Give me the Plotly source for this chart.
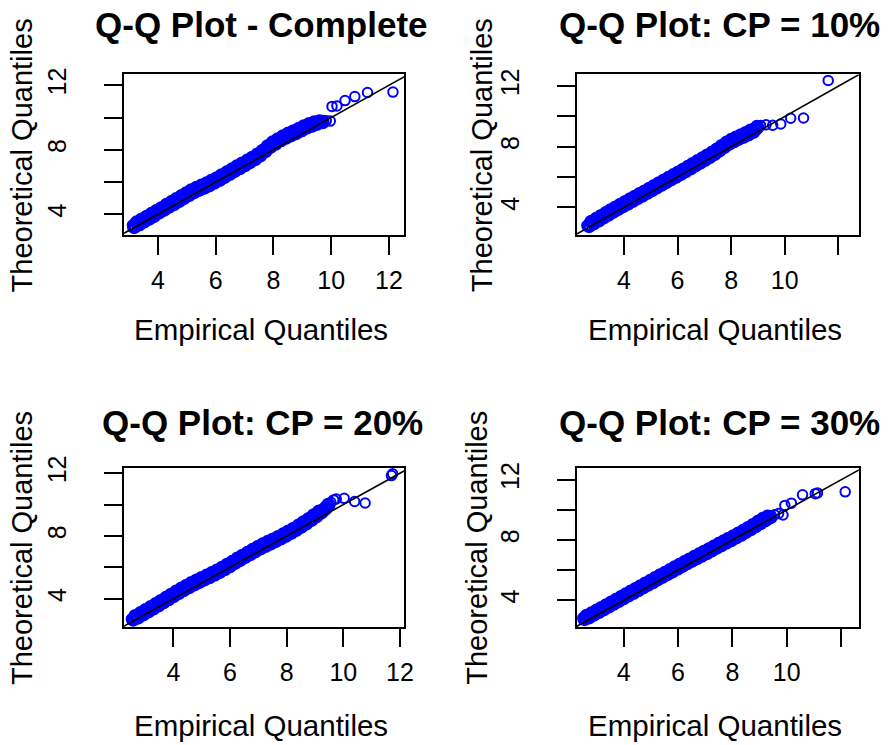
import plotly.graph_objects as go

# ---------------- data ----------------
titles = ["Q-Q Plot - Complete", "Q-Q Plot: CP = 10%", "Q-Q Plot: CP = 20%", "Q-Q Plot: CP = 30%"]
x_label = "Empirical Quantiles"
y_label = "Theoretical Quantiles"
tick_values = [4, 6, 8, 10, 12]
x_tick_text_full = ["4", "6", "8", "10", "12"]
x_tick_text_short = ["4", "6", "8", "10", ""]
y_tick_text = ["4", "", "8", "", "12"]

emp_complete = [
    3.12, 3.18, 3.27, 3.35, 3.44, 3.52, 3.61, 3.69, 3.78, 3.86,
    3.95, 4.04, 4.12, 4.21, 4.30, 4.38, 4.47, 4.56, 4.64, 4.73,
    4.82, 4.90, 4.99, 5.08, 5.16, 5.25, 5.34, 5.43, 5.51, 5.60,
    5.69, 5.78, 5.86, 5.95, 6.04, 6.13, 6.21, 6.30, 6.39, 6.48,
    6.57, 6.65, 6.74, 6.83, 6.92, 7.01, 7.10, 7.18, 7.27, 7.36,
    7.45, 7.54, 7.63, 7.72, 7.80, 7.89, 7.98, 8.07, 8.16, 8.25,
    8.34, 8.43, 8.52, 8.61, 8.70, 8.79, 8.88, 8.97, 9.06, 9.15,
    9.24, 9.33, 9.42, 9.51, 9.60, 9.70, 9.83, 9.97, 10.03, 10.20,
    10.48, 10.82, 11.26, 12.14]
theo_complete = [
    3.34, 3.22, 3.49, 3.38, 3.67, 3.56, 3.83, 3.73, 4.02, 3.90,
    4.19, 4.12, 4.37, 4.29, 4.58, 4.48, 4.75, 4.65, 4.93, 4.83,
    5.12, 5.02, 5.30, 5.21, 5.48, 5.38, 5.64, 5.53, 5.77, 5.66,
    5.91, 5.81, 6.07, 5.97, 6.23, 6.14, 6.41, 6.32, 6.59, 6.51,
    6.78, 6.69, 6.96, 6.87, 7.14, 7.05, 7.32, 7.23, 7.50, 7.43,
    7.70, 7.65, 7.93, 7.92, 8.20, 8.18, 8.45, 8.39, 8.64, 8.59,
    8.83, 8.75, 9.00, 8.91, 9.14, 9.05, 9.29, 9.21, 9.45, 9.38,
    9.58, 9.50, 9.69, 9.62, 9.76, 9.72, 9.80, 9.78, 10.69, 10.72,
    11.05, 11.30, 11.55, 11.58]

emp_cp10 = [
    2.62, 2.70, 2.79, 2.88, 2.97, 3.06, 3.15, 3.24, 3.33, 3.42,
    3.51, 3.60, 3.69, 3.78, 3.87, 3.96, 4.05, 4.14, 4.23, 4.32,
    4.41, 4.50, 4.59, 4.68, 4.77, 4.86, 4.95, 5.04, 5.13, 5.22,
    5.31, 5.40, 5.49, 5.58, 5.67, 5.76, 5.85, 5.94, 6.03, 6.12,
    6.21, 6.30, 6.39, 6.48, 6.57, 6.66, 6.75, 6.84, 6.93, 7.02,
    7.11, 7.20, 7.29, 7.38, 7.47, 7.56, 7.65, 7.74, 7.83, 7.92,
    8.01, 8.10, 8.19, 8.28, 8.37, 8.46, 8.55, 8.64, 8.73, 8.82,
    8.91, 8.97, 9.10, 9.30, 9.55, 9.85, 10.22, 10.70, 11.62]
theo_cp10 = [
    2.80, 2.78, 3.04, 2.96, 3.23, 3.15, 3.42, 3.34, 3.61, 3.53,
    3.80, 3.72, 3.98, 3.90, 4.16, 4.08, 4.34, 4.25, 4.52, 4.43,
    4.69, 4.61, 4.87, 4.78, 5.04, 4.96, 5.22, 5.14, 5.40, 5.32,
    5.58, 5.50, 5.76, 5.68, 5.94, 5.86, 6.12, 6.03, 6.29, 6.21,
    6.47, 6.39, 6.66, 6.58, 6.85, 6.77, 7.04, 6.96, 7.22, 7.14,
    7.41, 7.33, 7.60, 7.53, 7.81, 7.76, 8.04, 7.99, 8.26, 8.20,
    8.44, 8.37, 8.60, 8.53, 8.75, 8.67, 8.90, 8.82, 9.06, 8.99,
    9.18, 9.30, 9.40, 9.45, 9.42, 9.50, 9.88, 9.90, 12.37]

emp_cp20 = [
    2.52, 2.58, 2.66, 2.75, 2.84, 2.93, 3.02, 3.11, 3.20, 3.29,
    3.38, 3.47, 3.56, 3.65, 3.74, 3.83, 3.92, 4.01, 4.10, 4.19,
    4.28, 4.37, 4.46, 4.55, 4.64, 4.73, 4.82, 4.91, 5.00, 5.09,
    5.18, 5.27, 5.36, 5.45, 5.54, 5.63, 5.72, 5.81, 5.90, 5.99,
    6.08, 6.17, 6.26, 6.35, 6.44, 6.53, 6.62, 6.71, 6.80, 6.89,
    6.98, 7.07, 7.16, 7.25, 7.34, 7.43, 7.52, 7.61, 7.70, 7.79,
    7.88, 7.97, 8.06, 8.15, 8.24, 8.33, 8.42, 8.51, 8.60, 8.69,
    8.78, 8.87, 8.96, 9.05, 9.14, 9.22, 9.30, 9.38, 9.47, 9.56,
    9.66, 9.75, 10.03, 10.40, 10.77, 11.70, 11.74]
theo_cp20 = [
    2.70, 2.68, 2.89, 2.81, 3.07, 3.00, 3.26, 3.19, 3.45, 3.38,
    3.64, 3.58, 3.84, 3.78, 4.04, 3.98, 4.24, 4.18, 4.44, 4.37,
    4.63, 4.56, 4.81, 4.74, 4.99, 4.91, 5.15, 5.07, 5.31, 5.23,
    5.46, 5.38, 5.62, 5.54, 5.78, 5.71, 5.96, 5.89, 6.15, 6.08,
    6.34, 6.28, 6.54, 6.47, 6.73, 6.66, 6.91, 6.85, 7.10, 7.03,
    7.28, 7.21, 7.45, 7.37, 7.61, 7.52, 7.76, 7.68, 7.92, 7.85,
    8.09, 8.02, 8.27, 8.20, 8.45, 8.39, 8.65, 8.59, 8.86, 8.81,
    9.07, 9.03, 9.31, 9.26, 9.54, 9.50, 9.64, 9.78, 9.98, 10.15,
    10.30, 10.36, 10.40, 10.20, 10.10, 11.85, 11.96]

emp_cp30 = [
    2.50, 2.56, 2.64, 2.73, 2.82, 2.91, 3.00, 3.09, 3.18, 3.27,
    3.36, 3.45, 3.54, 3.63, 3.72, 3.81, 3.90, 3.99, 4.08, 4.17,
    4.26, 4.35, 4.44, 4.53, 4.62, 4.71, 4.80, 4.89, 4.98, 5.07,
    5.16, 5.25, 5.34, 5.43, 5.52, 5.61, 5.70, 5.79, 5.88, 5.97,
    6.06, 6.15, 6.24, 6.33, 6.42, 6.51, 6.60, 6.69, 6.78, 6.87,
    6.96, 7.05, 7.14, 7.23, 7.32, 7.41, 7.50, 7.59, 7.68, 7.77,
    7.86, 7.95, 8.04, 8.13, 8.22, 8.31, 8.40, 8.49, 8.58, 8.67,
    8.76, 8.85, 8.94, 9.03, 9.12, 9.21, 9.30, 9.40, 9.55, 9.70,
    9.86, 9.93, 10.17, 10.58, 11.05, 11.13, 12.15]
theo_cp30 = [
    2.84, 2.76, 2.96, 2.88, 3.12, 3.06, 3.30, 3.24, 3.48, 3.42,
    3.66, 3.60, 3.84, 3.78, 4.02, 3.96, 4.20, 4.14, 4.38, 4.32,
    4.56, 4.50, 4.74, 4.68, 4.92, 4.86, 5.10, 5.04, 5.28, 5.21,
    5.46, 5.40, 5.64, 5.57, 5.81, 5.75, 5.99, 5.92, 6.17, 6.11,
    6.35, 6.28, 6.52, 6.46, 6.70, 6.63, 6.87, 6.80, 7.04, 6.97,
    7.21, 7.14, 7.38, 7.31, 7.55, 7.49, 7.73, 7.66, 7.90, 7.83,
    8.07, 8.00, 8.24, 8.17, 8.42, 8.35, 8.60, 8.54, 8.79, 8.73,
    8.99, 8.93, 9.19, 9.13, 9.39, 9.32, 9.54, 9.52, 9.68, 9.76,
    9.66, 10.30, 10.45, 11.00, 11.08, 11.13, 11.20]

emp_sets = [emp_complete, emp_cp10, emp_cp20, emp_cp30]
theo_sets = [theo_complete, theo_cp10, theo_cp20, theo_cp30]
# number of sparse (individually visible) points at the upper end of each panel
tail_counts = [8, 7, 8, 9]
# the first point of each panel also shows as a lone ring
head_counts = [1, 1, 1, 1]

# ---------------- layout geometry (pixels) ----------------
W, H = 893, 745
FONT = "Liberation Sans, Arial, sans-serif"

# plot boxes: (left, right, top, bottom) in px
boxes = [(125.5, 408.5, 63.5, 226.5),
         (583.5, 868.5, 63.5, 226.5),
         (125.5, 408.5, 463.5, 625.5),
         (583.5, 868.5, 463.5, 625.5)]
x_ranges = [[2.83, 12.52], [2.25, 12.76], [2.26, 12.14], [2.28, 12.65]]
y_ranges = [[2.73, 12.67], [2.19, 12.77], [2.17, 12.33], [2.20, 12.78]]
x_tick_texts = [x_tick_text_full, x_tick_text_short, x_tick_text_full, x_tick_text_short]

title_pos = [(264, 13), (728, 13), (265, 417), (728, 417)]
xlab_pos = [(264, 323), (723, 323), (264, 725), (723, 725)]
ylab_pos = [(22, 146), (487, 146), (22, 545), (483, 545)]


def px_x(p):
    return p / W


def px_y(p):
    return 1 - p / H


fig = go.Figure()
layout_axes = {}
annotations = []

for i in range(4):
    n = "" if i == 0 else str(i + 1)
    xa, ya = "x" + n, "y" + n
    left, right, top, bottom = boxes[i]
    lo = min(x_ranges[i][0], y_ranges[i][0]) - 1
    hi = max(x_ranges[i][1], y_ranges[i][1]) + 1

    npts = len(emp_sets[i])
    dense_end = npts - tail_counts[i]
    # overplotted (dense) region: heavier ring stroke to imitate thousands of points
    sparse = [(k < head_counts[i] or k >= dense_end) for k in range(npts)]
    sizes = [9.5 if s else 10.5 for s in sparse]
    widths = [2.0 if s else 4.0 for s in sparse]

    fig.add_trace(go.Scatter(
        x=emp_sets[i], y=theo_sets[i], mode="markers", xaxis=xa, yaxis=ya,
        marker=dict(symbol="circle-open", size=sizes, color="#0000FF", opacity=1,
                    line=dict(color="#0000FF", width=widths)),
        showlegend=False, cliponaxis=True))
    fig.add_trace(go.Scatter(
        x=[lo, hi], y=[lo, hi], mode="lines", xaxis=xa, yaxis=ya,
        line=dict(color="black", width=1.6), showlegend=False))

    layout_axes["xaxis" + n] = dict(
        domain=[px_x(left), px_x(right)], range=x_ranges[i], anchor=ya,
        showgrid=False, zeroline=False, showline=True, mirror=True,
        linecolor="black", linewidth=2,
        ticks="outside", ticklen=18, tickwidth=2, tickcolor="black",
        tickvals=tick_values, ticktext=x_tick_texts[i],
        ticklabelstandoff=4,
        tickfont=dict(family=FONT, size=25, color="black"))
    layout_axes["yaxis" + n] = dict(
        domain=[px_y(bottom), px_y(top)], range=y_ranges[i], anchor=xa,
        showgrid=False, zeroline=False, showline=True, mirror=True,
        linecolor="black", linewidth=2,
        ticks="outside", ticklen=18, tickwidth=2, tickcolor="black",
        tickvals=tick_values, ticktext=y_tick_text, tickangle=-90,
        ticklabelstandoff=28,
        tickfont=dict(family=FONT, size=25, color="black"))

    annotations.append(dict(
        text="<b>" + titles[i] + "</b>", xref="paper", yref="paper",
        x=px_x(title_pos[i][0]), y=px_y(title_pos[i][1]),
        xanchor="center", yanchor="middle", showarrow=False,
        font=dict(family=FONT, size=35, color="black")))
    annotations.append(dict(
        text=x_label, xref="paper", yref="paper",
        x=px_x(xlab_pos[i][0]), y=px_y(xlab_pos[i][1]),
        xanchor="center", yanchor="middle", showarrow=False,
        font=dict(family=FONT, size=29.5, color="black")))
    annotations.append(dict(
        text=y_label, xref="paper", yref="paper", textangle=-90,
        x=px_x(ylab_pos[i][0]), y=px_y(ylab_pos[i][1]),
        xanchor="center", yanchor="middle", showarrow=False,
        font=dict(family=FONT, size=29, color="black")))

fig.update_layout(
    width=W, height=H, margin=dict(l=0, r=0, t=0, b=0),
    paper_bgcolor="white", plot_bgcolor="white",
    annotations=annotations, **layout_axes)

fig.write_html("out.html")
